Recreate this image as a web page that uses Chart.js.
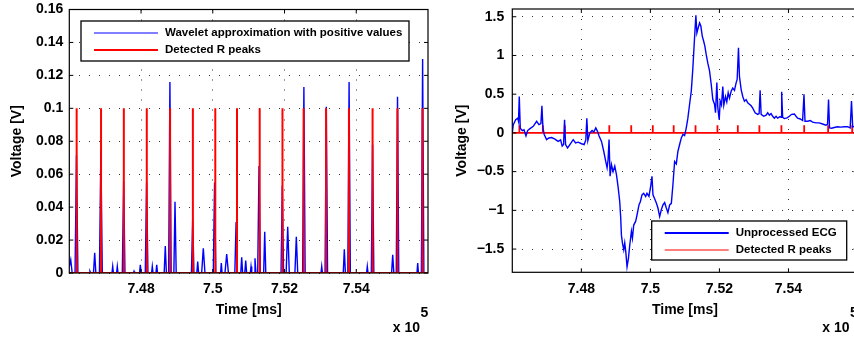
<!DOCTYPE html>
<html>
<head>
<meta charset="utf-8">
<script src="https://cdn.jsdelivr.net/npm/chart.js@4"></script>
<style>
  html, body { margin: 0; padding: 0; background: #fff; overflow: hidden; }
  body { width: 854px; height: 337px; position: relative; }
  canvas { position: absolute; top: 0; }
  #leftChart { left: 0; }
  #rightChart { left: 430px; }
</style>
</head>
<body>
<canvas id="leftChart" width="432" height="337"></canvas>
<canvas id="rightChart" width="432" height="337"></canvas>
<script>
// x axis (time in ms, shown as x 10^5)
const timeMin = 746000;
const timeMax = 756000;
const timeTicks = [748000, 750000, 752000, 754000];
const timeTickLabels = ['7.48', '7.5', '7.52', '7.54'];
const timeExponent = '5';

// detected R peaks (ms) and the marker height used for them
const rPeaks = [746205, 746885, 747520, 748160, 748810, 749445, 750070, 750675,
  751308, 751943, 752533, 753158, 753796, 754455, 755149, 755846];
const peakMarkerHeight = 0.1;

// left: wavelet approximation (positive part)
const waveTime = [746000, 746040, 746080,
  746160, 746200, 746240, 746560, 746577, 746595, 746675, 746708, 746740,
  746840, 746880, 746920, 747190, 747210, 747230, 747318, 747338, 747358,
  747478, 747515, 747552, 747790, 747804, 747818, 747958, 747980, 748002,
  748118, 748155, 748192, 748294, 748314, 748334, 748415, 748437, 748459,
  748645, 748676, 748707, 748770, 748805, 748840, 748915, 748947, 748980,
  749405, 749440, 749475, 749555, 749580, 749605, 749690, 749736, 749782,
  750015, 750050, 750085, 750218, 750238, 750258, 750340, 750388, 750436,
  750615, 750650, 750685, 750780, 750806, 750832, 750892, 750918, 750944,
  751046, 751066, 751086, 751152, 751177, 751202, 751252, 751289, 751326,
  751418, 751448, 751478, 751903, 751938, 751973, 752045, 752089, 752133,
  752290, 752329, 752368, 752505, 752540, 752575, 753017, 753037, 753057,
  753130, 753165, 753200, 753637, 753667, 753697, 753765, 753800, 753835,
  754288, 754308, 754328, 754420, 754455, 754490, 754985, 755016, 755047,
  755115, 755150, 755185, 755693, 755713, 755733, 755815, 755850, 755885, 756000];
const waveValue = [0.004, 0.008, 0,
  0, 0.0715, 0, 0, 0.001, 0, 0, 0.0123, 0,
  0, 0.0745, 0, 0, 0.004, 0, 0, 0.004, 0,
  0, 0.056, 0, 0, 0.001, 0, 0, 0.005, 0,
  0, 0.055, 0, 0, 0.004, 0, 0, 0.005, 0,
  0, 0.0164, 0, 0, 0.116, 0, 0, 0.0432, 0,
  0, 0.033, 0, 0, 0.007, 0, 0, 0.015, 0,
  0, 0.055, 0, 0, 0.006, 0, 0, 0.0115, 0,
  0, 0.031, 0, 0, 0.0095, 0, 0, 0.0075, 0,
  0, 0.004, 0, 0, 0.009, 0, 0, 0.065, 0,
  0, 0.025, 0, 0, 0.053, 0, 0, 0.028, 0,
  0, 0.022, 0, 0, 0.113, 0, 0, 0.004, 0,
  0, 0.101, 0, 0, 0.0144, 0, 0, 0.116, 0,
  0, 0.004, 0, 0, 0.078, 0, 0, 0.011, 0,
  0, 0.107, 0, 0, 0.006, 0, 0, 0.130, 0, 0];
const waveTicks = [0, 0.02, 0.04, 0.06, 0.08, 0.1, 0.12, 0.14, 0.16];
const waveTickLabels = ['0', '0.02', '0.04', '0.06', '0.08', '0.1', '0.12', '0.14', '0.16'];

// right: unprocessed ECG
const ecgTime = [746000, 746029, 746098, 746156, 746179, 746202, 746231, 746289,
  746338, 746396, 746445, 746512, 746607, 746705, 746772, 746829, 746858, 746887,
  746925, 746994, 747061, 747139, 747234, 747329, 747399, 747445, 747485, 747514,
  747543, 747601, 747668, 747763, 747832, 747907, 748006, 748081, 748130, 748159,
  748188, 748245, 748312, 748361, 748419, 748468, 748514, 748584, 748650, 748708,
  748746, 748774, 748803, 748832, 748873, 748919, 748968, 749017, 749063, 749112,
  749141, 749161, 749190, 749228, 749257, 749286, 749324, 749364, 749402, 749451,
  749480, 749517, 749575, 749613, 749670, 749711, 749757, 749806, 749864, 749901,
  749959, 750008, 750046, 750075, 750124, 750173, 750219, 750269, 750318, 750364,
  750413, 750462, 750508, 750558, 750607, 750653, 750702, 750751, 750797, 750847,
  750896, 750942, 750991, 751040, 751086, 751136, 751185, 751231, 751280, 751318,
  751347, 751387, 751425, 751462, 751503, 751540, 751578, 751618, 751664, 751714,
  751763, 751809, 751858, 751887, 751925, 751953, 751994, 752023, 752060, 752098,
  752127, 752176, 752214, 752254, 752292, 752341, 752387, 752436, 752485, 752514,
  752552, 752580, 752630, 752676, 752725, 752774, 752820, 752870, 752919, 752965,
  753034, 753109, 753150, 753179, 753208, 753283, 753352, 753398, 753448, 753497,
  753543, 753592, 753641, 753687, 753757, 753786, 753803, 753832, 753881, 753959,
  754026, 754092, 754170, 754219, 754265, 754343, 754410, 754450, 754479, 754554,
  754632, 754699, 754797, 754893, 754988, 755086, 755132, 755161, 755190, 755248,
  755326, 755421, 755520, 755615, 755710, 755788, 755826, 755860, 755930, 756000];
const ecgValue = [0.0, 0.107, 0.17, 0.19, 0.15, 0.47, 0.06, 0.03,
  0.04, -0.04, 0.03, 0.055, 0.085, 0.15, 0.107, 0.12, 0.35, 0.065,
  -0.02, -0.087, -0.065, -0.06, -0.08, -0.11, -0.09, -0.17, -0.15, 0.17,
  -0.15, -0.195, -0.15, -0.087, -0.13, -0.12, -0.14, -0.15, -0.09, 0.19,
  -0.1, 0.0, 0.03, 0.01, 0.065, 0.02, -0.04, -0.11, -0.24, -0.37,
  -0.45, -0.35, -0.087, -0.56, -0.41, -0.5, -0.43, -0.54, -0.69, -0.885,
  -1.1, -1.32, -1.42, -1.51, -1.42, -1.53, -1.73, -1.62, -1.45, -1.27,
  -1.36, -1.19, -1.14, -1.06, -0.93, -0.885, -0.8, -0.78, -0.82, -0.78,
  -0.82, -0.69, -0.56, -0.8, -0.85, -0.905, -0.97, -1.08, -0.99, -0.93,
  -0.9, -0.97, -1.03, -0.93, -0.91, -0.67, -0.37, -0.4, -0.24, -0.15,
  -0.065, -0.02, -0.035, 0.065, 0.19, 0.37, 0.54, 0.84, 1.23, 1.52,
  1.29, 1.36, 1.42, 1.38, 1.25, 1.19, 1.12, 1.01, 0.9, 0.8,
  0.625, 0.43, 0.37, 0.26, 0.65, 0.33, 0.17, 0.41, 0.36, 0.6,
  0.36, 0.47, 0.4, 0.52, 0.45, 0.54, 0.58, 0.55, 0.65, 0.69,
  1.1, 0.73, 0.56, 0.47, 0.41, 0.43, 0.39, 0.37, 0.35, 0.32,
  0.26, 0.24, 0.25, 0.55, 0.24, 0.215, 0.23, 0.26, 0.23, 0.25,
  0.215, 0.19, 0.215, 0.19, 0.21, 0.2, 0.53, 0.2, 0.185, 0.195,
  0.215, 0.24, 0.245, 0.215, 0.19, 0.18, 0.16, 0.5, 0.15, 0.15,
  0.16, 0.14, 0.13, 0.13, 0.115, 0.1, 0.11, 0.43, 0.065, 0.06,
  0.07, 0.08, 0.075, 0.08, 0.08, 0.065, 0.41, 0.08, 0.08, 0.07];
const ecgTicks = [-1.5, -1, -0.5, 0, 0.5, 1, 1.5];
const ecgTickLabels = ['\u22121.5', '\u22121', '\u22120.5', '0', '0.5', '1', '1.5'];

const FONT = '"Liberation Sans", Arial, Helvetica, sans-serif';
Chart.defaults.font.family = FONT;
Chart.defaults.color = '#000';

function toPoints(xs, ys) {
  return xs.map((x, i) => ({x: x, y: ys[i]}));
}

function peakPoints() {
  const pts = [{x: timeMin, y: 0}];
  rPeaks.forEach(p => {
    pts.push({x: p, y: 0}, {x: p, y: peakMarkerHeight}, {x: p, y: 0});
  });
  pts.push({x: timeMax, y: 0});
  return pts;
}

// axes box, inward tick marks and the x 10^5 note
const matlabAxes = {
  id: 'matlabAxes',
  afterDatasetsDraw(chart) {
    const {ctx, chartArea: a, scales} = chart;
    ctx.save();
    ctx.strokeStyle = '#000';
    ctx.lineWidth = 1.2;
    ctx.strokeRect(a.left, a.top, a.right - a.left, a.bottom - a.top);
    ctx.lineWidth = 1;
    ctx.beginPath();
    scales.x.ticks.forEach(t => {
      const px = scales.x.getPixelForValue(t.value);
      ctx.moveTo(px, a.bottom); ctx.lineTo(px, a.bottom - 4);
      ctx.moveTo(px, a.top); ctx.lineTo(px, a.top + 4);
    });
    scales.y.ticks.forEach(t => {
      const py = scales.y.getPixelForValue(t.value);
      ctx.moveTo(a.left, py); ctx.lineTo(a.left + 4, py);
      ctx.moveTo(a.right, py); ctx.lineTo(a.right - 4, py);
    });
    ctx.stroke();
    ctx.fillStyle = '#000';
    ctx.font = 'bold 14px ' + FONT;
    ctx.textBaseline = 'middle';
    ctx.textAlign = 'right';
    ctx.fillText('x 10', a.right - 8, 328);
    ctx.textAlign = 'left';
    ctx.fillText(timeExponent, a.right - 7.5, 313);
    ctx.restore();
  },
  afterDraw(chart) {
    const b = chart.options.plugins.matlabAxes.legend;
    if (!b) return;
    const ctx = chart.ctx;
    ctx.save();
    ctx.fillStyle = '#fff';
    ctx.fillRect(b.x, b.y, b.w, b.h);
    ctx.strokeStyle = '#000';
    ctx.lineWidth = 1.3;
    ctx.strokeRect(b.x, b.y, b.w, b.h);
    ctx.font = 'bold 11.5px ' + FONT;
    ctx.textBaseline = 'middle';
    ctx.textAlign = 'left';
    chart.data.datasets.forEach((ds, i) => {
      const ry = b.y + 12 + i * 17;
      ctx.strokeStyle = ds.borderColor;
      ctx.lineWidth = ds.legendWidth || ds.borderWidth;
      ctx.beginPath();
      ctx.moveTo(b.x + 13, ry);
      ctx.lineTo(b.x + 77, ry);
      ctx.stroke();
      ctx.fillStyle = '#000';
      ctx.fillText(ds.label, b.x + 84, ry);
    });
    ctx.restore();
  }
};

function makeChart(id, datasets, cfg) {
  return new Chart(document.getElementById(id), {
    type: 'line',
    data: {datasets: datasets},
    options: {
      responsive: false,
      animation: false,
      devicePixelRatio: 1,
      layout: {padding: {left: 0, right: cfg.padRight, top: cfg.padTop, bottom: 0}},
      elements: {point: {radius: 0}, line: {tension: 0}},
      plugins: {
        legend: {display: false},
        tooltip: {enabled: false},
        matlabAxes: {legend: cfg.legend}
      },
      scales: {
        x: {
          type: 'linear',
          min: timeMin,
          max: timeMax,
          afterBuildTicks: s => { s.ticks = timeTicks.map(v => ({value: v})); },
          afterFit: s => { s.height = cfg.xAxisHeight; s.paddingLeft = 0; s.paddingRight = 0; },
          ticks: {
            autoSkip: false,
            maxRotation: 0,
            padding: 8,
            font: {size: 14, weight: 'bold'},
            callback: (v, i) => timeTickLabels[i]
          },
          grid: {drawTicks: false, color: 'rgba(0,0,0,0.8)', lineWidth: 1},
          border: {display: false, dash: [1, 9]},
          title: {
            display: true,
            text: 'Time [ms]',
            font: {size: 14, weight: 'bold'},
            padding: {top: 0, bottom: 18.6}
          }
        },
        y: {
          type: 'linear',
          min: cfg.yMin,
          max: cfg.yMax,
          afterBuildTicks: s => { s.ticks = cfg.yTicks.map(v => ({value: v})); },
          afterFit: s => { s.width = cfg.yAxisWidth; s.paddingTop = 0; s.paddingBottom = 0; },
          ticks: {
            autoSkip: false,
            padding: cfg.yTickPad,
            font: {size: 14, weight: 'bold'},
            callback: (v, i) => cfg.yLabels[i]
          },
          grid: {drawTicks: false, color: 'rgba(0,0,0,0.8)', lineWidth: 1},
          border: {display: false, dash: [1, 9]},
          title: {
            display: true,
            text: 'Voltage [V]',
            font: {size: 14, weight: 'bold'},
            padding: {top: cfg.yTitlePad, bottom: 0}
          }
        }
      }
    },
    plugins: [matlabAxes]
  });
}

makeChart('leftChart', [
  {
    label: 'Wavelet approximation with positive values',
    data: toPoints(waveTime, waveValue),
    borderColor: '#0000ff',
    borderWidth: 1.4,
    legendWidth: 1.1,
    order: 2
  },
  {
    label: 'Detected R peaks',
    data: peakPoints(),
    borderColor: '#ff0000',
    borderWidth: 2,
    order: 1
  }
], {
  padTop: 9.5, padRight: 4, yAxisWidth: 69.3, xAxisHeight: 64,
  yMin: 0, yMax: 0.16, yTicks: waveTicks, yLabels: waveTickLabels,
  yTickPad: 6, yTitlePad: 8.6,
  legend: {x: 81, y: 21, w: 328, h: 40}
});

makeChart('rightChart', [
  {
    label: 'Unprocessed ECG',
    data: toPoints(ecgTime, ecgValue),
    borderColor: '#0000ff',
    borderWidth: 1.4,
    legendWidth: 2,
    order: 1
  },
  {
    label: 'Detected R peaks',
    data: peakPoints(),
    borderColor: '#ff0000',
    borderWidth: 1.8,
    legendWidth: 1.2,
    order: 2
  }
], {
  padTop: 9, padRight: 4.5, yAxisWidth: 82.3, xAxisHeight: 64.7,
  yMin: -1.8, yMax: 1.6, yTicks: ecgTicks, yLabels: ecgTickLabels,
  yTickPad: 8, yTitlePad: 23.3,
  legend: {x: 221.7, y: 221, w: 195, h: 39}
});
</script>
</body>
</html>
